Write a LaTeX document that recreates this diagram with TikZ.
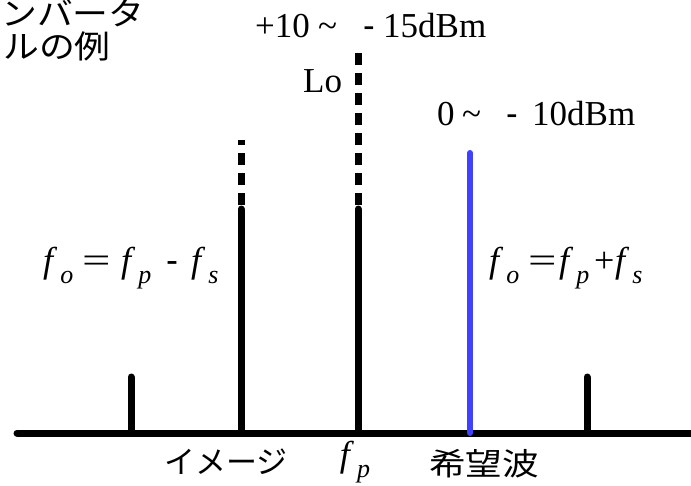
\documentclass[tikz,border=0pt]{standalone}
\usepackage{fontspec}
\usepackage{graphicx}
\setmainfont{Liberation Serif}
\newfontfamily\jpfont{Noto Sans CJK JP}
\newfontfamily\hyfont{Liberation Sans}
\newcommand\fsb[1]{\textit{f}\kern3pt\raisebox{-11pt}{\fontsize{26}{26}\selectfont\textit{#1}}}
\newcommand\hy{{\hyfont -}}
\newcommand\tld{{\char"007E}}
\newcommand\piece[2]{\makebox[#1][l]{#2}}
\newcommand\weq{\scalebox{1.4}[1]{=}}
\definecolor{wantblue}{RGB}{64,64,255}
\begin{document}
\begin{tikzpicture}[x=1pt,y=-1pt,
  spike/.style={line width=7pt, line cap=round},
  dashpart/.style={line width=7pt, dash pattern=on 12.5pt off 7.5pt},
  titlelabel/.style={font=\jpfont\fontsize{32}{36}\selectfont, inner sep=0pt},
  jplabel/.style={font=\jpfont\fontsize{31}{36}\selectfont, inner sep=0pt},
  serlabel/.style={font=\fontsize{35}{40}\selectfont, inner sep=0pt},
  mathlabel/.style={font=\fontsize{36}{40}\selectfont, inner sep=0pt}]
\useasboundingbox (0,0) rectangle (691,485);
% axis
\coordinate (axL) at (17,433);
\coordinate (axR) at (700,433);
\draw[spike] (axL) -- (axR);
% spike coordinates
\coordinate (b1) at (131,433); \coordinate (t1) at (131,377);
\coordinate (b2) at (241,433); \coordinate (t2) at (241,209);
\coordinate (d2s) at (241,205); \coordinate (d2e) at (241,140);
\coordinate (b3) at (358,433); \coordinate (t3) at (358,209);
\coordinate (d3s) at (358,205); \coordinate (d3e) at (358,52);
\coordinate (b4) at (470,433); \coordinate (t4) at (470,153);
\coordinate (b5) at (587,433); \coordinate (t5) at (587,377);
\draw[spike] (b1) -- (t1);
\draw[spike] (b2) -- (t2);
\draw[dashpart] (d2s) -- (d2e);
\draw[spike] (b3) -- (t3);
\draw[dashpart] (d3s) -- (d3e);
\draw[spike, wantblue, line width=6pt] (b4) -- (t4);
\draw[spike] (b5) -- (t5);
% title (cut at the picture edge)
\node[titlelabel, anchor=base west] (title1) at (1,25) {\scalebox{1.12}[1]{ンバータ}};
\node[titlelabel, anchor=base west] (title2) at (3,58) {\scalebox{1.12}[1]{ルの例}};
% levels
\node[serlabel, anchor=base west] (lolevel) at (255,37)
  {\piece{63pt}{+10}\piece{45pt}{\tld}\piece{20pt}{\hy}15dBm};
\node[serlabel, anchor=base west] (lo) at (303,92) {Lo};
\node[serlabel, anchor=base west] (siglevel) at (437,125)
  {\piece{25pt}{0}\piece{44pt}{\tld}\piece{26pt}{\hy}10dBm};
% formulas
\node[mathlabel, anchor=base west] (fleft) at (43,272)
  {\piece{39pt}{\fsb{o}}\piece{39pt}{\weq}\piece{45pt}{\fsb{p}}\piece{25pt}{\hy}\fsb{s}};
\node[mathlabel, anchor=base west] (fright) at (489,272)
  {\piece{39pt}{\fsb{o}}\piece{31pt}{\weq}\piece{35pt}{\fsb{p}}\piece{21pt}{+}\fsb{s}};
% bottom labels
\node[jplabel, anchor=base] (image) at (226,473) {イメージ};
\node[mathlabel, anchor=base] (fp) at (355,466) {\fsb{p}};
\node[jplabel, anchor=base] (want) at (484,475) {\scalebox{1.18}[1]{希望波}};
\end{tikzpicture}
\end{document}
